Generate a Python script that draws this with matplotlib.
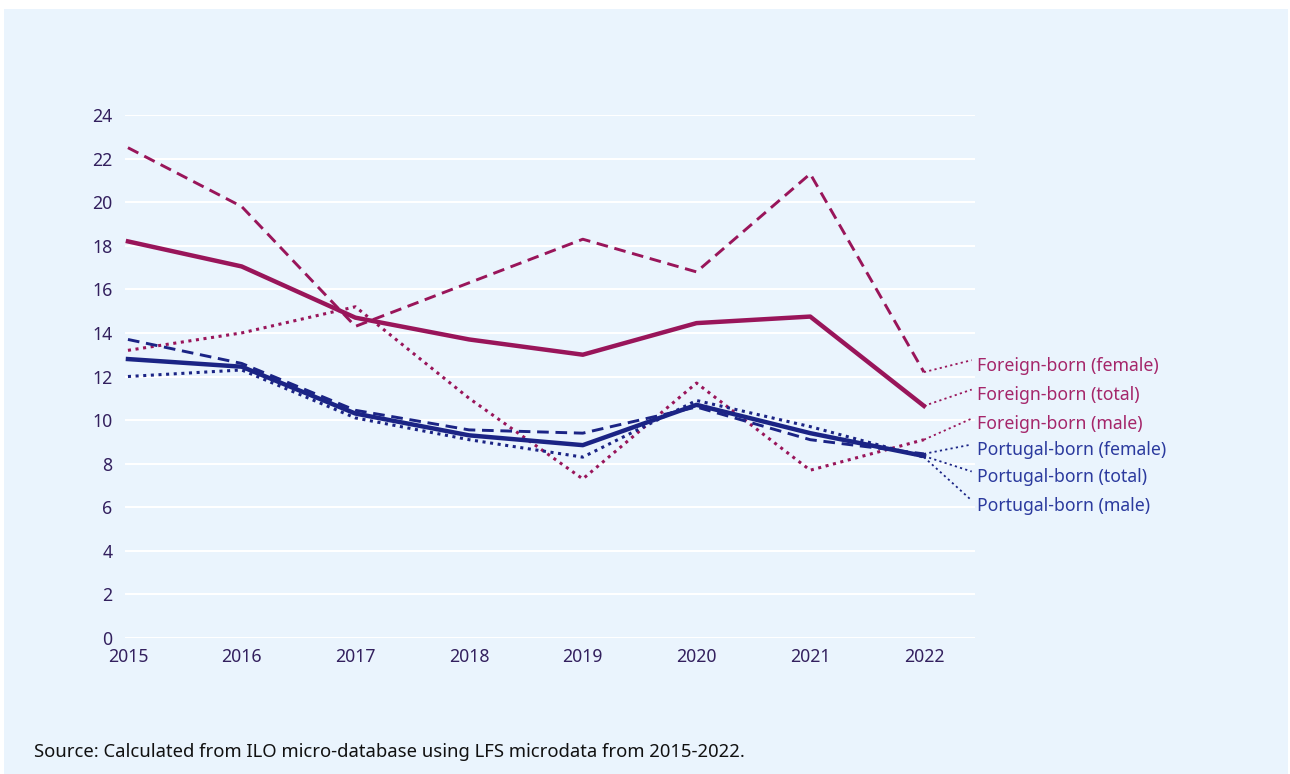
import matplotlib
matplotlib.use('Agg')
import matplotlib.pyplot as plt
from matplotlib.patches import Rectangle

plt.rcParams['font.family'] = ['Noto Sans', 'DejaVu Sans']

years = [2015, 2016, 2017, 2018, 2019, 2020, 2021, 2022]

fb_female = [22.5, 19.8, 14.3, 16.3, 18.3, 16.8, 21.3, 12.2]
fb_total = [18.2, 17.05, 14.7, 13.7, 13.0, 14.45, 14.75, 10.65]
fb_male = [13.2, 14.0, 15.2, 11.0, 7.3, 11.7, 7.7, 9.1]
pt_female = [13.7, 12.6, 10.45, 9.55, 9.4, 10.6, 9.1, 8.45]
pt_total = [12.8, 12.45, 10.3, 9.3, 8.85, 10.7, 9.4, 8.35]
pt_male = [12.0, 12.3, 10.1, 9.1, 8.3, 10.9, 9.7, 8.3]

labels = ['Foreign-born (female)', 'Foreign-born (total)', 'Foreign-born (male)',
          'Portugal-born (female)', 'Portugal-born (total)', 'Portugal-born (male)']
label_y = [12.5, 11.15, 9.82, 8.63, 7.39, 6.06]

magenta = '#99155A'
blue = '#1B2485'
mag_txt = '#A5266A'
blue_txt = '#2B3A9E'
tick_col = '#33205E'
bg = '#EAF4FD'

fig = plt.figure(figsize=(12.9, 7.74), dpi=100)
fig.patches.append(Rectangle((4 / 1290, 0), 1284 / 1290, 765 / 774,
                             transform=fig.transFigure, facecolor=bg,
                             edgecolor='none', zorder=-10))

ax = fig.add_axes([125 / 1290, 136 / 774, 850 / 1290, 523 / 774])
ax.set_facecolor('none')
for s in ax.spines.values():
    s.set_visible(False)

ax.set_xlim(2014.974, 2022.449)
ax.set_ylim(0, 24)
ax.set_yticks(range(0, 25, 2))
ax.set_xticks(years)
ax.grid(axis='y', color='white', lw=1.5)
ax.set_axisbelow(True)
ax.tick_params(length=0, labelsize=12.7, colors=tick_col)
ax.tick_params(axis='y', pad=9)
ax.tick_params(axis='x', pad=7)

series = [
    (fb_female, magenta, (0, (4, 2.3)), 2.1),
    (fb_total, magenta, '-', 3.2),
    (fb_male, magenta, (0, (1, 1.5)), 2.2),
    (pt_female, blue, (0, (4, 2.3)), 2.1),
    (pt_total, blue, '-', 3.2),
    (pt_male, blue, (0, (1, 1.5)), 2.2),
]

for i, (vals, col, ls, lw) in enumerate(series):
    ax.plot(years, vals, color=col, ls=ls, lw=lw, clip_on=False, zorder=3)
    ccol = magenta if i < 3 else blue
    tcol = mag_txt if i < 3 else blue_txt
    ax.plot([years[-1], 2022.42], [vals[-1], label_y[i] + 0.25],
            color=ccol, ls=(0, (1.2, 1.8)), lw=1.3, clip_on=False)
    ax.text(2022.465, label_y[i], labels[i], color=tcol, fontsize=12.7,
            va='center', ha='left', clip_on=False)

fig.text(34 / 1290, 1 - 752 / 774, 'Source: Calculated from ILO micro-database using LFS microdata from 2015-2022.',
         fontsize=13.3, color='#111111', va='center', ha='left')

fig.savefig('out.png', dpi=100, facecolor='white')
